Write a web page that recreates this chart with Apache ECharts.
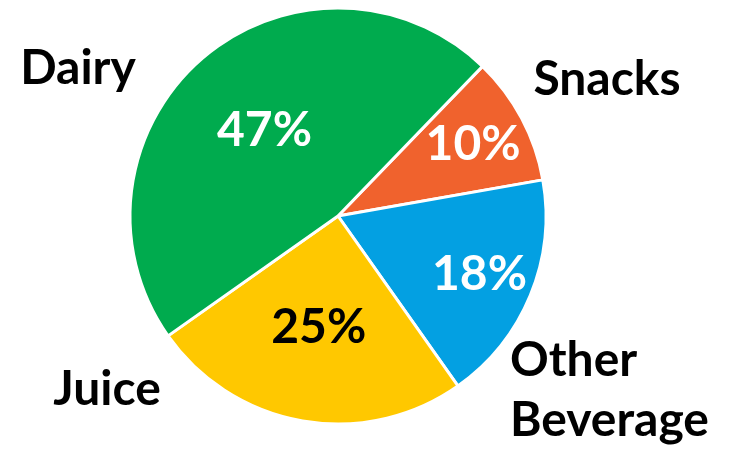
<!DOCTYPE html>
<html>
<head>
<meta charset="utf-8">
<script src="https://cdn.jsdelivr.net/npm/echarts@6/dist/echarts.min.js"></script>
<style>
  html, body { margin: 0; padding: 0; background: #ffffff; }
  #chart { width: 732px; height: 449px; }
</style>
</head>
<body>
<div id="chart"></div>
<script>
// Category shares (percent), in clockwise order from the top-right
const categories = ['Snacks', 'Other Beverage', 'Juice', 'Dairy'];
const shares = [10, 18, 25, 47];

// Slice colours and percent-label colours
const sliceColors = ['#F0622D', '#03A0E2', '#FFC800', '#00AB4E'];
const pctColors = ['#ffffff', '#ffffff', '#000000', '#ffffff'];

const FONT = 'Lato';
const FONT_SIZE = 48;
const CENTER = [338, 216];
const RADIUS = 208;
const START = 46;

// Where each category name sits beside the pie
const nameSpots = {
  'Snacks': { x: 607, y: 80, align: 'center' },
  'Other Beverage': { x: 510, y: 391, align: 'left' },
  'Juice': { x: 107, y: 390, align: 'center' },
  'Dairy': { x: 78, y: 69, align: 'center' }
};

const chart = echarts.init(document.getElementById('chart'), null, { renderer: 'canvas' });

const sliceData = categories.map((name, i) => ({
  name: name,
  value: shares[i],
  itemStyle: { color: sliceColors[i] }
}));

// Transparent ring used only to carry the percent labels at a chosen radius;
// `pick` says which slices show their label on this ring.
function pctRing(inner, outer, pick) {
  return {
    type: 'pie',
    silent: true,
    center: CENTER,
    radius: [inner, outer],
    startAngle: START,
    clockwise: true,
    avoidLabelOverlap: false,
    itemStyle: { color: 'rgba(0,0,0,0)', borderWidth: 0 },
    emphasis: { disabled: true },
    labelLine: { show: false },
    data: categories.map((name, i) => ({
      name: name,
      value: shares[i],
      label: {
        show: pick(shares[i]),
        position: 'inside',
        formatter: '{c}%',
        color: pctColors[i],
        fontFamily: FONT,
        fontWeight: 'bold',
        fontSize: FONT_SIZE
      }
    }))
  };
}

chart.setOption({
  backgroundColor: '#ffffff',
  animation: false,
  series: [
    {
      type: 'pie',
      center: CENTER,
      radius: [0, RADIUS],
      startAngle: START,
      clockwise: true,
      avoidLabelOverlap: false,
      itemStyle: { borderColor: '#ffffff', borderWidth: 3 },
      emphasis: { disabled: true },
      label: {
        show: true,
        position: 'outside',
        formatter: p => p.name.replace(' ', '\n'),
        color: '#000000',
        fontFamily: FONT,
        fontWeight: 'bold',
        fontSize: FONT_SIZE,
        lineHeight: 60
      },
      labelLine: { show: false },
      labelLayout: params => {
        const spot = nameSpots[categories[params.dataIndex]];
        return { x: spot.x, y: spot.y, align: spot.align, verticalAlign: 'middle' };
      },
      data: sliceData
    },
    pctRing(100, 200, v => v < 20),
    pctRing(12, 208, v => v >= 20)
  ]
});
</script>
</body>
</html>
